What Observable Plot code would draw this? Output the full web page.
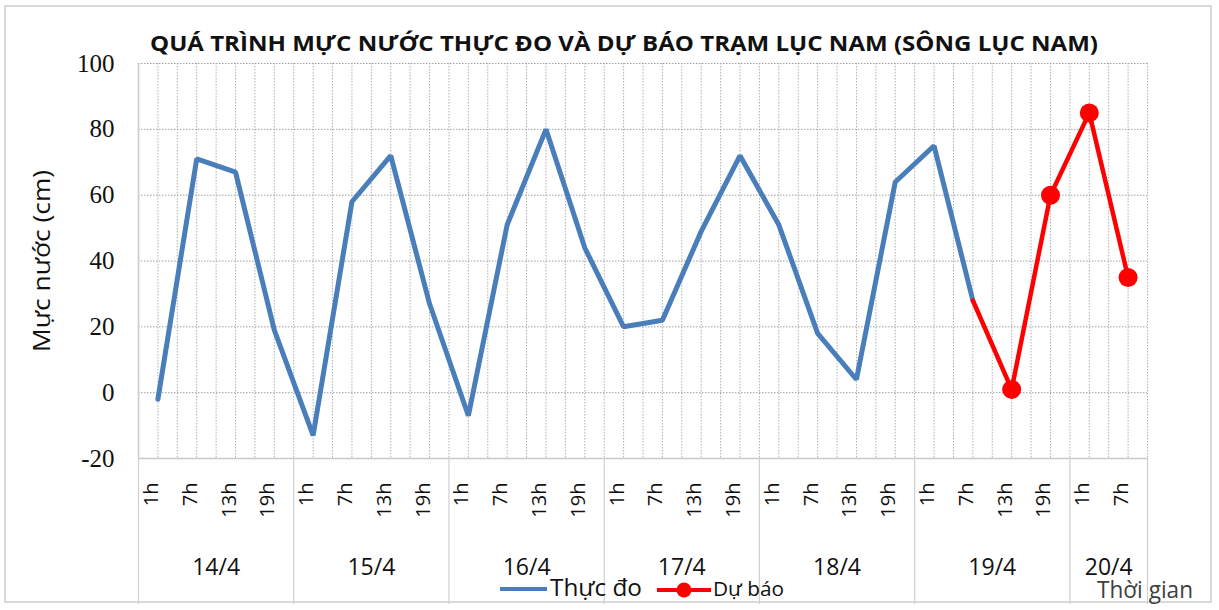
<!DOCTYPE html>
<html>
<head>
<meta charset="utf-8">
<script src="https://cdn.jsdelivr.net/npm/d3@7"></script>
<script src="https://cdn.jsdelivr.net/npm/@observablehq/plot@0.6"></script>
<style>
  body { margin: 0; background: #fff; }
  #wrap { position: relative; width: 1219px; height: 610px; overflow: hidden; background: #fff; }
  #frame { position: absolute; left: 4px; top: 5px; width: 1208px; height: 598px; border: 2px solid #d9d9d9; box-sizing: border-box; }
  #chart { position: absolute; left: 0; top: 0; }
  #over { position: absolute; left: 0; top: 0; pointer-events: none; }
</style>
</head>
<body>
<div id="wrap">
  <div id="frame"></div>
  <div id="chart"></div>
  <svg id="over" width="1219" height="610"></svg>
</div>
<script>
// ---- data ----
const dates = ["14/4", "15/4", "16/4", "17/4", "18/4", "19/4", "20/4"];
const hoursPerDate = [
  ["1h", "7h", "13h", "19h"],
  ["1h", "7h", "13h", "19h"],
  ["1h", "7h", "13h", "19h"],
  ["1h", "7h", "13h", "19h"],
  ["1h", "7h", "13h", "19h"],
  ["1h", "7h", "13h", "19h"],
  ["1h", "7h"]
];
// Thực đo (observed), from 14/4 1h to 19/4 7h
const observed = [-2, 71, 67, 19, -13, 58, 72, 27, -7, 51, 80, 44, 20, 22, 49, 72, 51, 18, 4, 64, 75, 28];
// Dự báo (forecast), from 19/4 7h to 20/4 7h
const forecast = [28, 1, 60, 85, 35];
const forecastStart = 21; // category index where forecast begins (19/4 7h)
const yTicks = [-20, 0, 20, 40, 60, 80, 100];

const title = "QUÁ TRÌNH MỰC NƯỚC THỰC ĐO VÀ DỰ BÁO TRẠM LỤC NAM (SÔNG LỤC NAM)";
const yTitle = "Mực nước (cm)";
const xTitle = "Thời gian";
const legendObserved = "Thực đo";
const legendForecast = "Dự báo";

// ---- derived tables ----
const cats = [];
const days = [];
hoursPerDate.forEach((hs, di) => {
  const start = cats.length;
  hs.forEach(h => cats.push({i: cats.length, hour: h, date: dates[di]}));
  days.push({date: dates[di], start: start - 0.5, end: cats.length - 0.5, center: (start + cats.length - 1) / 2});
});
const n = cats.length;
const obsData = observed.map((v, k) => ({i: k, v}));
const fcData = forecast.map((v, k) => ({i: forecastStart + k, v}));
const boundaries = [days[0].start, ...days.map(d => d.end)];
const gridX = d3.range(0, 2 * n).map(k => k / 2); // half-step gridlines 0 .. n-0.5

const serif = "'Liberation Serif', 'Times New Roman', serif";

const plot = Plot.plot({
  width: 1219,
  height: 610,
  marginTop: 63,
  marginBottom: 152,
  marginLeft: 138,
  marginRight: 72,
  style: {background: "transparent", overflow: "visible"},
  x: {domain: [-0.5, n - 0.5], axis: null},
  y: {domain: [-20, 100], axis: null},
  marks: [
    // vertical dotted gridlines
    Plot.ruleX(gridX, {stroke: "#b0b0b0", strokeWidth: 1, strokeDasharray: "1.5,1.5"}),
    // horizontal dotted gridlines
    Plot.ruleY(yTicks.filter(t => t > -20), {stroke: "#a0a0a0", strokeWidth: 1, strokeDasharray: "1.5,1.5"}),
    // axis lines
    Plot.ruleX([-0.5], {stroke: "#c8c8c8", strokeWidth: 1.5}),
    Plot.ruleY([-20], {stroke: "#c8c8c8", strokeWidth: 1.5}),
    // day separators below the plot
    Plot.ruleX(boundaries, {x: d => d, y1: -20, y2: -20, insetBottom: -146, stroke: "#d0d0d0", strokeWidth: 1.2}),
    // y axis labels (plain hyphen for negatives, as in the reference)
    Plot.text(yTicks, {y: d => d, text: d => String(d), frameAnchor: "left", textAnchor: "end", dx: -24,
      fontFamily: serif, fontSize: 25, fill: "#111"}),
    // hour labels
    Plot.text(cats, {x: "i", text: "hour", frameAnchor: "bottom", rotate: -90, textAnchor: "end", dy: 24,
      fontFamily: "Open Sans", fontSize: 20, fill: "#111"}),
    // date labels
    Plot.text(days, {x: "center", text: "date", frameAnchor: "bottom", dy: 116,
      fontFamily: "Open Sans", fontSize: 23, fill: "#111"}),
    // data
    Plot.line(obsData, {x: "i", y: "v", stroke: "#4A7EBB", strokeWidth: 5, strokeLinejoin: "miter"}),
    Plot.line(fcData, {x: "i", y: "v", stroke: "#FF0000", strokeWidth: 4.5, strokeLinejoin: "miter"}),
    Plot.dot(fcData.slice(1), {x: "i", y: "v", r: 9.5, fill: "#FF0000", stroke: "none"})
  ]
});
document.getElementById("chart").appendChild(plot);

// ---- overlay: title, axis title, legend ----
const over = d3.select("#over");
over.append("text")
  .attr("x", 624).attr("y", 51).attr("text-anchor", "middle")
  .attr("textLength", 948).attr("lengthAdjust", "spacingAndGlyphs")
  .style("font-family", "Open Sans").style("font-weight", 700).style("font-size", "22px").style("fill", "#111")
  .text(title);
over.append("text")
  .attr("transform", "translate(50,261) rotate(-90)").attr("text-anchor", "middle")
  .attr("textLength", 182).attr("lengthAdjust", "spacingAndGlyphs")
  .style("font-family", "Open Sans").style("font-size", "23px").style("fill", "#111")
  .text(yTitle);
// legend
const lg = over.append("g");
lg.append("line").attr("x1", 500).attr("x2", 547).attr("y1", 589).attr("y2", 589)
  .attr("stroke", "#4A7EBB").attr("stroke-width", 4);
lg.append("text").attr("x", 550).attr("y", 596)
  .attr("textLength", 92).attr("lengthAdjust", "spacingAndGlyphs")
  .style("font-family", "Open Sans").style("font-size", "24px").style("fill", "#111").text(legendObserved);
lg.append("line").attr("x1", 657).attr("x2", 711).attr("y1", 590).attr("y2", 590)
  .attr("stroke", "#FF0000").attr("stroke-width", 4);
lg.append("circle").attr("cx", 684).attr("cy", 590).attr("r", 7.5).attr("fill", "#FF0000");
lg.append("text").attr("x", 713).attr("y", 596)
  .attr("textLength", 71).attr("lengthAdjust", "spacingAndGlyphs")
  .style("font-family", "Open Sans").style("font-size", "20px").style("fill", "#111").text(legendForecast);
over.append("text").attr("x", 1097).attr("y", 598)
  .attr("textLength", 96).attr("lengthAdjust", "spacingAndGlyphs")
  .style("font-family", "Open Sans").style("font-size", "23px").style("fill", "#404040").text(xTitle);
</script>
</body>
</html>
